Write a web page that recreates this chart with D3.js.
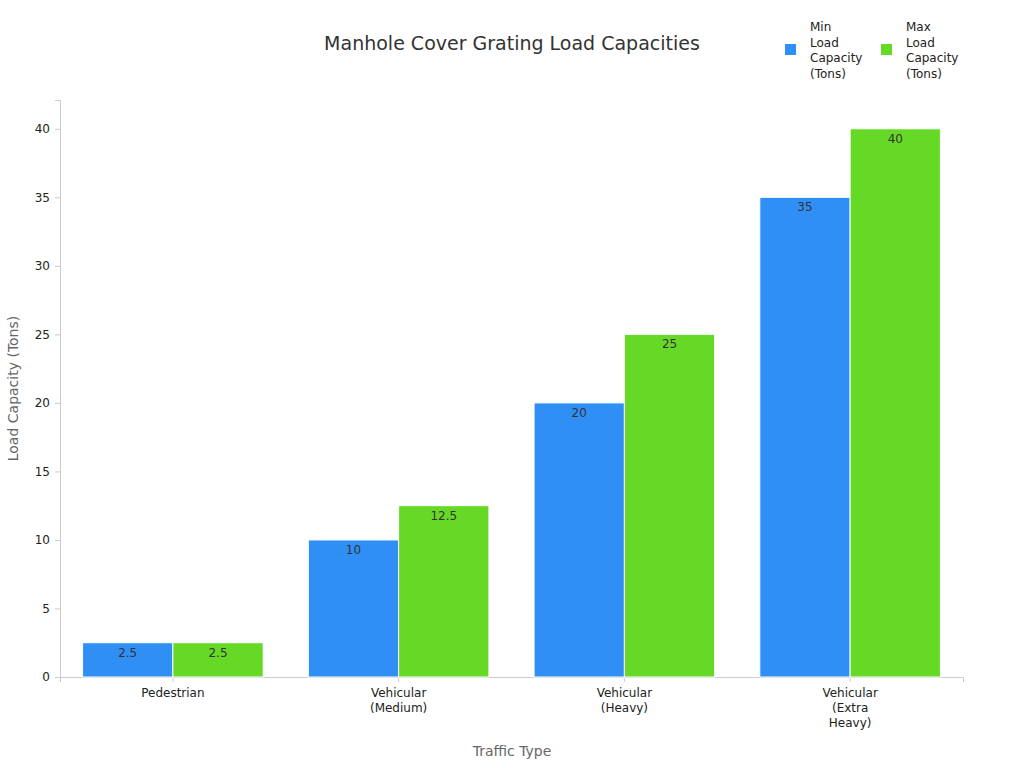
<!DOCTYPE html>
<html><head><meta charset="utf-8">
<script src="https://cdn.jsdelivr.net/npm/d3@7"></script>
<style>body{margin:0;background:#fff}text{font-family:"DejaVu Sans",sans-serif}</style>
</head><body>
<script>
var categories = [["Pedestrian"], ["Vehicular", "(Medium)"], ["Vehicular", "(Heavy)"], ["Vehicular", "(Extra", "Heavy)"]];
var minLoad = [2.5, 10, 20, 35];
var maxLoad = [2.5, 12.5, 25, 40];
var yTicks = [0, 5, 10, 15, 20, 25, 30, 35, 40];
var seriesNames = [["Min", "Load", "Capacity", "(Tons)"], ["Max", "Load", "Capacity", "(Tons)"]];
var colors = ["#2f8ff5", "#66d926"];

var w = 1024, h = 768;
var mLeft = 60, mRight = 963, mTop = 100, mBottom = 677;

var svg = d3.select("body").append("svg").attr("width", w).attr("height", h);

var x = d3.scaleBand().domain(d3.range(categories.length)).range([mLeft, mRight]).paddingInner(0.2).paddingOuter(0.1);
var xs = d3.scaleBand().domain([0, 1]).range([0, x.bandwidth()]);
var y = d3.scaleLinear().domain([0, 42.1]).range([mBottom, mTop]);

// axes
var ya = svg.append("g").attr("transform", "translate(" + mLeft + ",0)")
    .call(d3.axisLeft(y).tickValues(yTicks).tickSize(5).tickPadding(5));
ya.selectAll("text").attr("font-size", 12).attr("fill", "#222");
ya.selectAll("line,path").attr("stroke", "#ccc");

var xa = svg.append("g").attr("transform", "translate(0," + mBottom + ")")
    .call(d3.axisBottom(x).tickSize(5).tickFormat(""));
xa.selectAll("line,path").attr("stroke", "#ccc");
xa.selectAll(".tick").each(function(d) {
    var t = d3.select(this).append("text").attr("y", 20).attr("text-anchor", "middle")
        .attr("font-size", 12).attr("fill", "#222");
    categories[d].forEach(function(s, i) {
        t.append("tspan").attr("x", 0).attr("dy", i ? 15 : 0).text(s);
    });
});

var series = [minLoad, maxLoad];
series.forEach(function(vals, si) {
    svg.selectAll(".bar" + si).data(vals).enter().append("rect")
        .attr("x", function(d, i) { return x(i) + xs(si); })
        .attr("y", function(d) { return y(d); })
        .attr("width", xs.bandwidth())
        .attr("height", function(d) { return mBottom - y(d); })
        .attr("fill", colors[si]).attr("stroke", "#fff").attr("stroke-width", 1);
    svg.selectAll(".lab" + si).data(vals).enter().append("text")
        .attr("x", function(d, i) { return x(i) + xs(si) + xs.bandwidth() / 2; })
        .attr("y", function(d) { return y(d) + 14; })
        .attr("text-anchor", "middle").attr("font-size", 12).attr("fill", "#333")
        .text(function(d) { return d; });
});

svg.append("text").attr("x", 512).attr("y", 50).attr("text-anchor", "middle")
    .attr("font-size", 19).attr("fill", "#333").text("Manhole Cover Grating Load Capacities");
svg.append("text").attr("x", 512).attr("y", 756).attr("text-anchor", "middle")
    .attr("font-size", 14).attr("fill", "#666").text("Traffic Type");
svg.append("text").attr("transform", "translate(18," + (mTop + mBottom) / 2 + ") rotate(-90)")
    .attr("text-anchor", "middle").attr("font-size", 14).attr("fill", "#666").text("Load Capacity (Tons)");

var lg = svg.selectAll(".leg").data(seriesNames).enter().append("g")
    .attr("transform", function(d, i) { return "translate(" + (785 + i * 96) + ",0)"; });
lg.append("rect").attr("x", 0).attr("y", 44).attr("width", 11).attr("height", 11)
    .attr("fill", function(d, i) { return colors[i]; });
lg.append("text").attr("x", 25).attr("font-size", 12).attr("fill", "#222")
    .each(function(d) {
        var t = d3.select(this);
        d.forEach(function(s, i) { t.append("tspan").attr("x", 25).attr("y", 31 + i * 15.5).text(s); });
    });
</script>
</body></html>
